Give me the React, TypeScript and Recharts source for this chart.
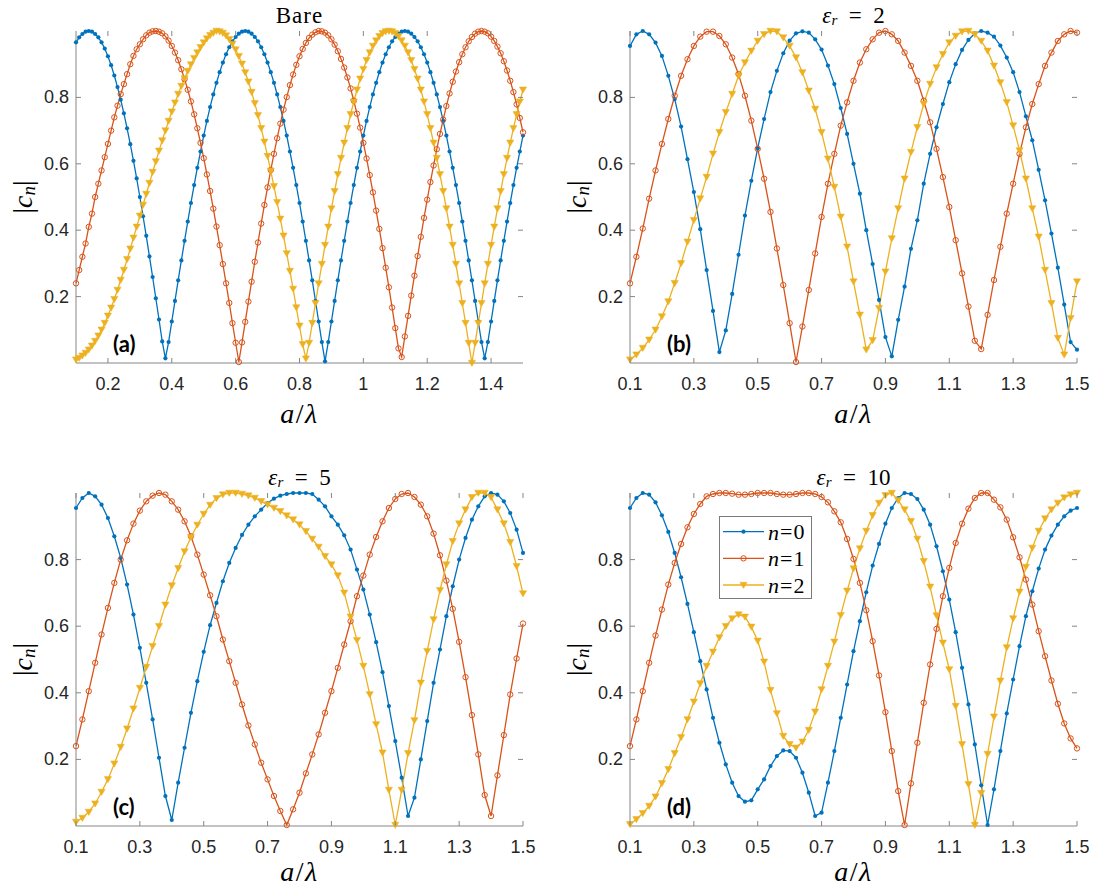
import React from 'react';
import { LineChart, Line, XAxis, YAxis, Legend } from 'recharts';

const BLUE = '#0072BD';
const ORANGE = '#D95319';
const YELLOW = '#EDB120';
const AXIS = '#868686';
const INK = '#262626';
const SANS = "'Liberation Sans', Arial, Helvetica, sans-serif";
const SERIF = "'Liberation Serif', 'Times New Roman', serif";
const TAGFONT = "Lato, 'Open Sans', sans-serif";

// a/lambda grids
const xBare = [
  0.10, 0.11, 0.12, 0.13, 0.14, 0.15, 0.16, 0.17, 0.18, 0.19,
  0.20, 0.21, 0.22, 0.23, 0.24, 0.25, 0.26, 0.27, 0.28, 0.29,
  0.30, 0.31, 0.32, 0.33, 0.34, 0.35, 0.36, 0.37, 0.38, 0.39,
  0.40, 0.41, 0.42, 0.43, 0.44, 0.45, 0.46, 0.47, 0.48, 0.49,
  0.50, 0.51, 0.52, 0.53, 0.54, 0.55, 0.56, 0.57, 0.58, 0.59,
  0.60, 0.61, 0.62, 0.63, 0.64, 0.65, 0.66, 0.67, 0.68, 0.69,
  0.70, 0.71, 0.72, 0.73, 0.74, 0.75, 0.76, 0.77, 0.78, 0.79,
  0.80, 0.81, 0.82, 0.83, 0.84, 0.85, 0.86, 0.87, 0.88, 0.89,
  0.90, 0.91, 0.92, 0.93, 0.94, 0.95, 0.96, 0.97, 0.98, 0.99,
  1.00, 1.01, 1.02, 1.03, 1.04, 1.05, 1.06, 1.07, 1.08, 1.09,
  1.10, 1.11, 1.12, 1.13, 1.14, 1.15, 1.16, 1.17, 1.18, 1.19,
  1.20, 1.21, 1.22, 1.23, 1.24, 1.25, 1.26, 1.27, 1.28, 1.29,
  1.30, 1.31, 1.32, 1.33, 1.34, 1.35, 1.36, 1.37, 1.38, 1.39,
  1.40, 1.41, 1.42, 1.43, 1.44, 1.45, 1.46, 1.47, 1.48, 1.49,
  1.50,
];

const xDiel = [
  0.10, 0.12, 0.14, 0.16, 0.18, 0.20, 0.22, 0.24, 0.26, 0.28,
  0.30, 0.32, 0.34, 0.36, 0.38, 0.40, 0.42, 0.44, 0.46, 0.48,
  0.50, 0.52, 0.54, 0.56, 0.58, 0.60, 0.62, 0.64, 0.66, 0.68,
  0.70, 0.72, 0.74, 0.76, 0.78, 0.80, 0.82, 0.84, 0.86, 0.88,
  0.90, 0.92, 0.94, 0.96, 0.98, 1.00, 1.02, 1.04, 1.06, 1.08,
  1.10, 1.12, 1.14, 1.16, 1.18, 1.20, 1.22, 1.24, 1.26, 1.28,
  1.30, 1.32, 1.34, 1.36, 1.38, 1.40, 1.42, 1.44, 1.46, 1.48,
  1.50,
];

// (a) Bare
const bareN0 = [
  0.966, 0.981, 0.991, 0.998, 1.000, 0.998, 0.991, 0.981, 0.966, 0.947,
  0.924, 0.897, 0.866, 0.831, 0.793, 0.752, 0.707, 0.659, 0.609, 0.556,
  0.500, 0.442, 0.383, 0.321, 0.259, 0.195, 0.131, 0.065, 0.014, 0.063,
  0.125, 0.187, 0.249, 0.309, 0.368, 0.426, 0.482, 0.536, 0.588, 0.637,
  0.685, 0.729, 0.771, 0.809, 0.844, 0.876, 0.905, 0.930, 0.951, 0.969,
  0.982, 0.992, 0.998, 1.000, 0.998, 0.992, 0.982, 0.969, 0.951, 0.930,
  0.905, 0.876, 0.844, 0.809, 0.771, 0.729, 0.685, 0.637, 0.588, 0.536,
  0.482, 0.426, 0.368, 0.309, 0.249, 0.187, 0.125, 0.063, 0.005, 0.063,
  0.125, 0.187, 0.249, 0.309, 0.368, 0.426, 0.482, 0.536, 0.588, 0.637,
  0.685, 0.729, 0.771, 0.809, 0.844, 0.876, 0.905, 0.930, 0.951, 0.969,
  0.982, 0.992, 0.998, 1.000, 0.998, 0.992, 0.982, 0.969, 0.951, 0.930,
  0.905, 0.876, 0.844, 0.809, 0.771, 0.729, 0.685, 0.637, 0.588, 0.536,
  0.482, 0.426, 0.368, 0.309, 0.249, 0.187, 0.125, 0.063, 0.014, 0.063,
  0.125, 0.187, 0.249, 0.309, 0.368, 0.426, 0.482, 0.536, 0.588, 0.637,
  0.685,
];
const bareN1 = [
  0.24, 0.28, 0.32, 0.36, 0.41, 0.45, 0.50, 0.54, 0.58, 0.62,
  0.66, 0.70, 0.74, 0.775, 0.81, 0.84, 0.87, 0.90, 0.925, 0.945,
  0.96, 0.975, 0.987, 0.995, 0.999, 1.0, 0.998, 0.993, 0.984, 0.971,
  0.955, 0.935, 0.912, 0.885, 0.855, 0.823, 0.788, 0.749, 0.707, 0.663,
  0.617, 0.568, 0.518, 0.465, 0.411, 0.355, 0.298, 0.240, 0.181, 0.120,
  0.061, 0.003, 0.062, 0.124, 0.185, 0.245, 0.305, 0.363, 0.420, 0.476,
  0.529, 0.581, 0.630, 0.677, 0.721, 0.763, 0.801, 0.837, 0.869, 0.898,
  0.924, 0.946, 0.964, 0.979, 0.989, 0.996, 1.000, 0.999, 0.995, 0.987,
  0.975, 0.959, 0.939, 0.916, 0.890, 0.860, 0.827, 0.790, 0.751, 0.709,
  0.663, 0.616, 0.566, 0.514, 0.459, 0.404, 0.346, 0.287, 0.228, 0.167,
  0.105, 0.044, 0.018, 0.080, 0.142, 0.203, 0.263, 0.322, 0.380, 0.437,
  0.492, 0.545, 0.595, 0.644, 0.690, 0.733, 0.774, 0.812, 0.847, 0.878,
  0.906, 0.930, 0.951, 0.969, 0.982, 0.992, 0.998, 1.000, 0.998, 0.993,
  0.983, 0.970, 0.953, 0.933, 0.909, 0.881, 0.850, 0.816, 0.779, 0.738,
  0.695,
];
const bareN2 = [
  0.010, 0.015, 0.022, 0.030, 0.040, 0.052, 0.066, 0.082, 0.100, 0.120,
  0.142, 0.166, 0.192, 0.220, 0.250, 0.280, 0.312, 0.344, 0.377, 0.410,
  0.443, 0.476, 0.509, 0.542, 0.575, 0.607, 0.639, 0.670, 0.700, 0.729,
  0.757, 0.784, 0.810, 0.834, 0.857, 0.879, 0.899, 0.918, 0.935, 0.951,
  0.965, 0.977, 0.987, 0.994, 1.000, 0.998, 0.994, 0.986, 0.975, 0.961,
  0.944, 0.924, 0.901, 0.875, 0.847, 0.816, 0.782, 0.746, 0.707, 0.666,
  0.623, 0.579, 0.532, 0.484, 0.434, 0.383, 0.330, 0.277, 0.223, 0.167,
  0.112, 0.056, 0.013, 0.060, 0.120, 0.180, 0.239, 0.298, 0.355, 0.410,
  0.465, 0.517, 0.568, 0.617, 0.663, 0.707, 0.749, 0.787, 0.823, 0.856,
  0.885, 0.912, 0.935, 0.955, 0.971, 0.984, 0.993, 0.998, 1.000, 0.998,
  0.993, 0.984, 0.971, 0.955, 0.935, 0.912, 0.885, 0.856, 0.823, 0.787,
  0.749, 0.707, 0.663, 0.617, 0.568, 0.517, 0.465, 0.410, 0.355, 0.298,
  0.239, 0.180, 0.120, 0.060, 0.000, 0.060, 0.120, 0.180, 0.239, 0.298,
  0.355, 0.410, 0.465, 0.517, 0.568, 0.617, 0.663, 0.707, 0.749, 0.787,
  0.823,
];

// (b) eps_r = 2
const eps2N0 = [
  0.955, 0.99, 1.0, 0.99, 0.965, 0.925, 0.865, 0.795, 0.712, 0.614,
  0.515, 0.403, 0.28, 0.157, 0.033, 0.098, 0.208, 0.326, 0.444, 0.549,
  0.647, 0.735, 0.816, 0.88, 0.933, 0.971, 0.993, 0.999, 0.995, 0.975,
  0.944, 0.896, 0.84, 0.768, 0.69, 0.60, 0.51, 0.40, 0.298, 0.19,
  0.078, 0.02, 0.13, 0.23, 0.344, 0.43, 0.54, 0.63, 0.71, 0.78,
  0.846, 0.90, 0.943, 0.973, 0.993, 1.0, 0.995, 0.983, 0.956, 0.92,
  0.876, 0.816, 0.743, 0.671, 0.582, 0.49, 0.39, 0.287, 0.176, 0.063,
  0.04,
];
const eps2N1 = [
  0.24, 0.32, 0.405, 0.495, 0.58, 0.66, 0.735, 0.805, 0.865, 0.915,
  0.955, 0.983, 0.998, 0.998, 0.985, 0.96, 0.92, 0.87, 0.805, 0.73,
  0.645, 0.555, 0.455, 0.345, 0.235, 0.12, 0.003, 0.11, 0.22, 0.33,
  0.44, 0.54, 0.63, 0.715, 0.785, 0.85, 0.905, 0.945, 0.975, 0.995,
  1.0, 0.99, 0.97, 0.935, 0.895, 0.85, 0.79, 0.725, 0.645, 0.56,
  0.47, 0.37, 0.27, 0.17, 0.067, 0.042, 0.145, 0.25, 0.35, 0.45,
  0.54, 0.63, 0.71, 0.78, 0.84, 0.895, 0.935, 0.97, 0.99, 1.0,
  0.995,
];
const eps2N2 = [
  0.01, 0.025, 0.045, 0.07, 0.10, 0.14, 0.185, 0.24, 0.30, 0.365,
  0.43, 0.495, 0.56, 0.63, 0.695, 0.755, 0.81, 0.865, 0.905, 0.94,
  0.97, 0.99, 1.0, 0.998, 0.98, 0.955, 0.92, 0.875, 0.82, 0.765,
  0.695, 0.615, 0.53, 0.44, 0.35, 0.245, 0.145, 0.04, 0.068, 0.165,
  0.275, 0.375, 0.465, 0.555, 0.635, 0.71, 0.78, 0.84, 0.89, 0.93,
  0.965, 0.985, 0.998, 1.0, 0.99, 0.97, 0.94, 0.895, 0.845, 0.785,
  0.715, 0.64, 0.555, 0.465, 0.38, 0.28, 0.18, 0.075, 0.025, 0.135,
  0.245,
];

// (c) eps_r = 5
const eps5N0 = [
  0.955, 0.985, 1.0, 0.99, 0.965, 0.925, 0.87, 0.805, 0.725, 0.635,
  0.535, 0.43, 0.32, 0.205, 0.09, 0.018, 0.13, 0.235, 0.34, 0.435,
  0.523, 0.603, 0.67, 0.735, 0.79, 0.835, 0.874, 0.905, 0.93, 0.95,
  0.97, 0.983, 0.992, 0.997, 1.0, 1.0, 1.0, 0.997, 0.98, 0.96,
  0.93, 0.905, 0.873, 0.83, 0.77, 0.71, 0.635, 0.552, 0.462, 0.36,
  0.255, 0.145, 0.03, 0.085, 0.20, 0.315, 0.43, 0.53, 0.63, 0.72,
  0.80, 0.865, 0.92, 0.96, 0.99, 1.0, 0.995, 0.975, 0.94, 0.89,
  0.82,
];
const eps5N1 = [
  0.24, 0.32, 0.405, 0.49, 0.575, 0.655, 0.73, 0.80, 0.858, 0.908,
  0.947, 0.975, 0.992, 1.0, 0.995, 0.975, 0.95, 0.915, 0.87, 0.815,
  0.755, 0.693, 0.63, 0.56, 0.495, 0.43, 0.365, 0.302, 0.245, 0.19,
  0.14, 0.09, 0.045, 0.003, 0.05, 0.10, 0.158, 0.215, 0.275, 0.34,
  0.405, 0.475, 0.545, 0.615, 0.69, 0.752, 0.815, 0.868, 0.915, 0.955,
  0.982, 0.997, 1.0, 0.988, 0.965, 0.93, 0.878, 0.813, 0.737, 0.652,
  0.553, 0.447, 0.333, 0.215, 0.093, 0.03, 0.152, 0.273, 0.395, 0.503,
  0.608,
];
const eps5N2 = [
  0.012, 0.024, 0.042, 0.067, 0.102, 0.14, 0.187, 0.237, 0.292, 0.352,
  0.414, 0.477, 0.54, 0.60, 0.664, 0.722, 0.774, 0.824, 0.867, 0.904,
  0.937, 0.964, 0.984, 0.995, 1.0, 1.0, 0.997, 0.992, 0.985, 0.975,
  0.965, 0.955, 0.945, 0.932, 0.92, 0.905, 0.885, 0.862, 0.838, 0.81,
  0.785, 0.752, 0.70, 0.628, 0.558, 0.48, 0.395, 0.305, 0.22, 0.108,
  0.003, 0.108, 0.218, 0.317, 0.43, 0.525, 0.62, 0.708, 0.785, 0.855,
  0.908, 0.95, 0.987, 1.0, 1.0, 0.987, 0.95, 0.908, 0.852, 0.78,
  0.698,
];

// (d) eps_r = 10
const eps10N0 = [
  0.955, 0.985, 1.0, 0.995, 0.972, 0.933, 0.883, 0.82, 0.747, 0.667,
  0.582, 0.495, 0.41, 0.325, 0.25, 0.185, 0.13, 0.09, 0.073, 0.077,
  0.11, 0.14, 0.18, 0.21, 0.227, 0.225, 0.205, 0.16, 0.10, 0.03,
  0.04, 0.13, 0.225, 0.325, 0.425, 0.525, 0.615, 0.702, 0.782, 0.847,
  0.908, 0.955, 0.985, 1.0, 0.997, 0.982, 0.95, 0.905, 0.84, 0.765,
  0.68, 0.582, 0.475, 0.365, 0.245, 0.122, 0.003, 0.11, 0.225, 0.338,
  0.44, 0.54, 0.63, 0.705, 0.773, 0.83, 0.872, 0.905, 0.93, 0.947,
  0.955,
];
const eps10N1 = [
  0.24, 0.32, 0.405, 0.49, 0.572, 0.65, 0.725, 0.79, 0.847, 0.897,
  0.937, 0.967, 0.99, 0.997, 1.0, 1.0, 0.998, 0.995, 0.995, 0.997,
  1.0, 1.0, 1.0, 0.997, 0.995, 0.995, 0.997, 1.0, 1.0, 0.997,
  0.988, 0.972, 0.945, 0.912, 0.862, 0.802, 0.73, 0.648, 0.555, 0.452,
  0.342, 0.225, 0.105, 0.003, 0.128, 0.25, 0.37, 0.485, 0.592, 0.69,
  0.775, 0.85, 0.908, 0.953, 0.985, 1.0, 1.0, 0.98, 0.957, 0.92,
  0.867, 0.807, 0.74, 0.665, 0.585, 0.51, 0.437, 0.367, 0.308, 0.263,
  0.233,
];
const eps10N2 = [
  0.005, 0.02, 0.038, 0.06, 0.088, 0.128, 0.17, 0.218, 0.266, 0.32,
  0.373, 0.428, 0.48, 0.523, 0.566, 0.60, 0.623, 0.635, 0.628, 0.598,
  0.556, 0.493, 0.408, 0.338, 0.27, 0.245, 0.235, 0.253, 0.288, 0.343,
  0.41, 0.48, 0.553, 0.633, 0.706, 0.773, 0.833, 0.886, 0.933, 0.97,
  0.993, 1.0, 0.978, 0.95, 0.915, 0.862, 0.795, 0.718, 0.632, 0.55,
  0.47, 0.36, 0.245, 0.125, 0.003, 0.098, 0.216, 0.328, 0.436, 0.536,
  0.623, 0.703, 0.778, 0.835, 0.886, 0.923, 0.95, 0.97, 0.986, 0.995,
  1.0,
];

const ticksBare = [0.2, 0.4, 0.6, 0.8, 1, 1.2, 1.4];
const ticksDiel = [0.1, 0.3, 0.5, 0.7, 0.9, 1.1, 1.3, 1.5];
const ticksY = [0.2, 0.4, 0.6, 0.8];
const seriesNames = ['n=0', 'n=1', 'n=2'];

type Kind = 'dot' | 'ring' | 'tri';
const series: { key: string; color: string; kind: Kind }[] = [
  { key: 'n0', color: BLUE, kind: 'dot' },
  { key: 'n1', color: ORANGE, kind: 'ring' },
  { key: 'n2', color: YELLOW, kind: 'tri' },
];

function marker(kind: Kind, cx: number, cy: number, color: string, key?: string) {
  if (kind === 'dot') return <circle key={key} cx={cx} cy={cy} r={2.1} fill={color} />;
  if (kind === 'ring')
    return <circle key={key} cx={cx} cy={cy} r={2.7} fill="none" stroke={color} strokeWidth={1} />;
  return (
    <path
      key={key}
      d={`M${cx - 3.6} ${cy - 2.8}L${cx + 3.6} ${cy - 2.8}L${cx} ${cy + 3.4}Z`}
      fill={color}
      stroke={color}
      strokeWidth={0.5}
      strokeLinejoin="round"
    />
  );
}

const XTick = ({ x, y, payload, plotH }: any) => (
  <g>
    <line x1={x} x2={x} y1={y} y2={y - 5} stroke={AXIS} />
    <line x1={x} x2={x} y1={y - plotH} y2={y - plotH + 5} stroke={AXIS} />
    <text x={x} y={y + 21} textAnchor="middle" dominantBaseline="central" fontFamily={SANS} fontSize={18} fill={INK}>
      {String(payload.value)}
    </text>
  </g>
);

const YTick = ({ x, y, payload, plotW }: any) => (
  <g>
    <line x1={x} x2={x + 5} y1={y} y2={y} stroke={AXIS} />
    <line x1={x + plotW} x2={x + plotW - 5} y1={y} y2={y} stroke={AXIS} />
    <text x={x - 7} y={y} textAnchor="end" dominantBaseline="central" fontFamily={SANS} fontSize={18} fill={INK}>
      {String(payload.value)}
    </text>
  </g>
);

const LegendBox = () => (
  <svg width={93} height={83} style={{ display: 'block' }}>
    <rect x={0.5} y={0.5} width={92} height={82} fill="#fff" stroke="#7a7a7a" />
    {series.map((s, i) => {
      const cy = 15.7 + i * 26.65;
      return (
        <g key={s.key}>
          <line x1={4} x2={45} y1={cy} y2={cy} stroke={s.color} strokeWidth={1.3} />
          {marker(s.kind, 24.5, cy, s.color)}
          <text x={49} y={cy} dominantBaseline="central" fontFamily={SERIF} fontSize={22} fill="#000" letterSpacing={1}>
            <tspan fontStyle="italic">{seriesNames[i].slice(0, 1)}</tspan>
            {seriesNames[i].slice(1)}
          </text>
        </g>
      );
    })}
  </svg>
);

type PanelDef = {
  id: string;
  left: number;
  top: number;
  plotW: number;
  plotH: number;
  xs: number[];
  n0: number[];
  n1: number[];
  n2: number[];
  xTicks: number[];
  eps: string | null;
  tag: string;
  xLabelY: number;
  legend?: boolean;
};

const panels: PanelDef[] = [
  { id: 'a', left: 76, top: 31, plotW: 447, plotH: 332, xs: xBare, n0: bareN0, n1: bareN1, n2: bareN2, xTicks: ticksBare, eps: null, tag: '(a)', xLabelY: 413 },
  { id: 'b', left: 630, top: 31, plotW: 447, plotH: 332, xs: xDiel, n0: eps2N0, n1: eps2N1, n2: eps2N2, xTicks: ticksDiel, eps: '2', tag: '(b)', xLabelY: 413 },
  { id: 'c', left: 76, top: 493, plotW: 447, plotH: 333, xs: xDiel, n0: eps5N0, n1: eps5N1, n2: eps5N2, xTicks: ticksDiel, eps: '5', tag: '(c)', xLabelY: 871 },
  { id: 'd', left: 630, top: 493, plotW: 447, plotH: 333, xs: xDiel, n0: eps10N0, n1: eps10N1, n2: eps10N2, xTicks: ticksDiel, eps: '10', tag: '(d)', xLabelY: 871, legend: true },
];

function Panel({ p }: { p: PanelDef }) {
  const rows = p.xs.map((x, i) => ({ x, n0: p.n0[i], n1: p.n1[i], n2: p.n2[i] }));
  return (
    <div style={{ position: 'absolute', left: p.left - 70, top: p.top - 30 }}>
      <LineChart width={p.plotW + 100} height={p.plotH + 90} data={rows} margin={{ top: 30, right: 30, bottom: 20, left: 30 }}>
        <XAxis
          dataKey="x"
          type="number"
          domain={[0.1, 1.5]}
          ticks={p.xTicks}
          interval={0}
          height={40}
          tickSize={0}
          tickMargin={0}
          tickLine={false}
          axisLine={{ stroke: AXIS }}
          tick={(t: any) => <XTick {...t} plotH={p.plotH} />}
        />
        <XAxis xAxisId="top" orientation="top" dataKey="x" type="number" domain={[0.1, 1.5]} height={0} tick={false} tickLine={false} axisLine={{ stroke: AXIS }} />
        <YAxis
          type="number"
          domain={[0, 1]}
          ticks={ticksY}
          interval={0}
          width={40}
          tickSize={0}
          tickMargin={0}
          tickLine={false}
          axisLine={{ stroke: AXIS }}
          tick={(t: any) => <YTick {...t} plotW={p.plotW} />}
        />
        <YAxis yAxisId="right" orientation="right" type="number" domain={[0, 1]} width={0} tick={false} tickLine={false} axisLine={{ stroke: AXIS }} />
        {series.map((s) => (
          <Line
            key={s.key}
            dataKey={s.key}
            type="linear"
            stroke={s.color}
            strokeWidth={1.3}
            dot={(d: any) => marker(s.kind, d.cx, d.cy, s.color, `${s.key}-${d.index}`)}
            activeDot={false}
            isAnimationActive={false}
          />
        ))}
        {p.legend && (
          <Legend
            layout="vertical"
            align="center"
            verticalAlign="middle"
            wrapperStyle={{ left: 719 - (p.left - 70), top: 516 - (p.top - 30), width: 93, height: 83 }}
            content={() => <LegendBox />}
          />
        )}
      </LineChart>
    </div>
  );
}

function Texts() {
  return (
    <svg width={1096} height={891} style={{ position: 'absolute', left: 0, top: 0, pointerEvents: 'none' }}>
      {panels.map((p) => {
        const cx = p.left + p.plotW / 2;
        const cy = p.top + p.plotH / 2;
        const yl = p.left - 54;
        return (
          <g key={p.id}>
            <text x={cx} y={p.top - 16} textAnchor="middle" dominantBaseline="central" fontFamily={SERIF} fontSize={23} fill="#000" letterSpacing={p.eps ? 0 : 1}>
              {p.eps === null ? (
                'Bare'
              ) : (
                <>
                  <tspan fontStyle="italic">ε</tspan>
                  <tspan fontStyle="italic" fontSize={15} dy={5}>r</tspan>
                  <tspan dy={-5}>{'\u2002=\u2002' + p.eps}</tspan>
                </>
              )}
            </text>
            <text x={cx} y={p.xLabelY} textAnchor="middle" dominantBaseline="central" fontFamily={SERIF} fontSize={28} fill="#000" letterSpacing={1.5}>
              <tspan fontStyle="italic">a</tspan>/<tspan fontStyle="italic">λ</tspan>
            </text>
            <text
              x={yl}
              y={cy}
              transform={`rotate(-90 ${yl} ${cy})`}
              textAnchor="middle"
              dominantBaseline="central"
              fontFamily={SERIF}
              fontSize={28}
              fill="#000"
            >
              |<tspan fontStyle="italic">c</tspan>
              <tspan fontStyle="italic" fontSize={19} dy={6}>n</tspan>
              <tspan dy={-6}>|</tspan>
            </text>
            <text x={p.left + 37} y={p.top + p.plotH - 20} dominantBaseline="central" fontFamily={TAGFONT} fontWeight={700} fontSize={22} fill="#000">
              {p.tag}
            </text>
          </g>
        );
      })}
    </svg>
  );
}

export default function App() {
  return (
    <div style={{ position: 'absolute', left: 0, top: 0, width: 1096, height: 891, background: '#fff', overflow: 'hidden' }}>
      {panels.map((p) => (
        <Panel key={p.id} p={p} />
      ))}
      <Texts />
    </div>
  );
}
